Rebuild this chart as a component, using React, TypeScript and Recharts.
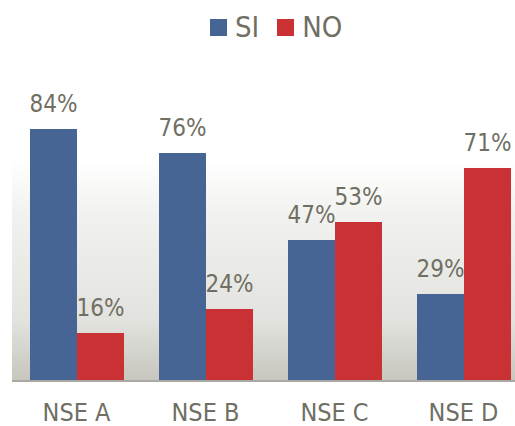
import React from 'react';
import { BarChart, Bar, XAxis, YAxis, CartesianGrid, Legend, LabelList } from 'recharts';

const categories = ['NSE A', 'NSE B', 'NSE C', 'NSE D'];
const siValues = [84, 76, 47, 29];
const noValues = [16, 24, 53, 71];
const seriesOrder = ['SI', 'NO'];

const FONT = "'Liberation Sans Narrow', 'DejaVu Sans Condensed', sans-serif";
const TEXT = '#6f6f63';
const BLUE = '#466595';
const RED = '#c93135';

const data = categories.map((name, i) => ({ name, si: siValues[i], no: noValues[i] }));

// recharts sorts legend items by name, so put them back in series order
const LegendContent = (props: any) => {
  const items = [...(props.payload || [])].sort(
    (a: any, b: any) => seriesOrder.indexOf(a.value) - seriesOrder.indexOf(b.value)
  );
  return (
    <div style={{ display: 'flex', alignItems: 'center', fontFamily: FONT, fontSize: 29, color: TEXT }}>
      {items.map((item: any, i: number) => (
        <div key={i} style={{ display: 'flex', alignItems: 'center', marginRight: 18 }}>
          <span style={{ width: 17, height: 17, background: item.color, display: 'inline-block', marginRight: 8 }} />
          <span>{item.value}</span>
        </div>
      ))}
    </div>
  );
};

const App: React.FC = () => {
  return (
    <div style={{ position: 'absolute', left: 0, top: 0, width: 515, height: 426, overflow: 'hidden', background: '#fff' }}>
      <BarChart
        width={540}
        height={426}
        data={data}
        margin={{ top: 81, right: 12, bottom: 15, left: 12 }}
        barGap={0}
        barSize={47}
      >
        <defs>
          <linearGradient id="plotBg" x1="0" y1="0" x2="0" y2="1">
            <stop offset="0%" stopColor="#ffffff" />
            <stop offset="26%" stopColor="#ffffff" />
            <stop offset="45%" stopColor="#f1f1ef" />
            <stop offset="80%" stopColor="#e2e2de" />
            <stop offset="100%" stopColor="#c6c6be" />
          </linearGradient>
        </defs>
        <CartesianGrid horizontal={false} vertical={false} fill="url(#plotBg)" />
        <XAxis
          dataKey="name"
          axisLine={{ stroke: '#a9a9a2', strokeWidth: 2 }}
          tickLine={false}
          tickMargin={16}
          tick={{ fill: TEXT, fontSize: 25, fontFamily: FONT }}
        />
        <YAxis hide domain={[0, 100]} />
        <Legend
          layout="horizontal"
          verticalAlign="middle"
          align="center"
          wrapperStyle={{ top: 10, left: 210, width: 'auto' }}
          content={<LegendContent />}
        />
        <Bar dataKey="si" name="SI" fill={BLUE} isAnimationActive={false}>
          <LabelList dataKey="si" position="top" offset={17} formatter={(v: any) => `${v}%`} fill={TEXT} fontSize={24} fontFamily={FONT} />
        </Bar>
        <Bar dataKey="no" name="NO" fill={RED} isAnimationActive={false}>
          <LabelList dataKey="no" position="top" offset={17} formatter={(v: any) => `${v}%`} fill={TEXT} fontSize={24} fontFamily={FONT} />
        </Bar>
      </BarChart>
    </div>
  );
};

export default App;
